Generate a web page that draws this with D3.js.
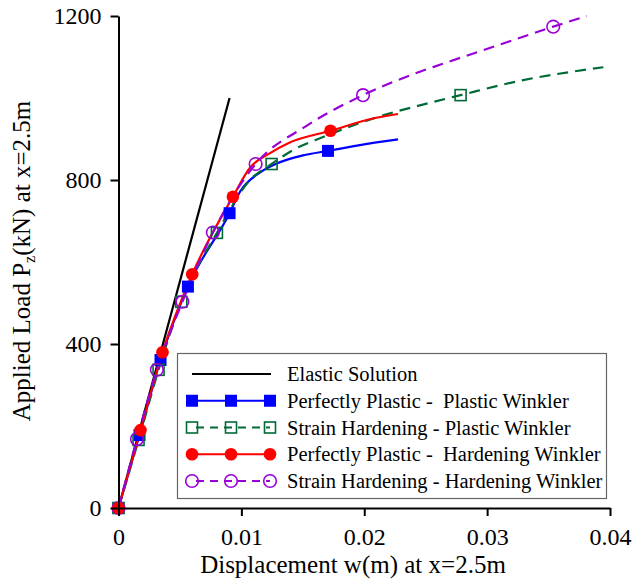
<!DOCTYPE html>
<html><head><meta charset="utf-8">
<script src="https://cdn.jsdelivr.net/npm/d3@7"></script>
<style>body{margin:0;background:#fff}svg{display:block}text{white-space:pre}</style>
</head><body>
<script>
// ---- data ----
const xTicks = [0, 0.01, 0.02, 0.03, 0.04];
const xTickLabels = ["0", "0.01", "0.02", "0.03", "0.04"];
const yTicks = [0, 400, 800, 1200];
const yTickLabels = ["0", "400", "800", "1200"];

const seriesNames = ["Elastic Solution", "Perfectly Plastic -  Plastic Winkler", "Strain Hardening - Plastic Winkler", "Perfectly Plastic -  Hardening Winkler", "Strain Hardening - Hardening Winkler"];

const elasticX = [0, 0.00904];
const elasticY = [0, 1000];

const ppPwX = [0, 0.00171, 0.00342, 0.00565, 0.00904, 0.0099, 0.0115, 0.0131, 0.0150, 0.01705, 0.0213, 0.02275];
const ppPwY = [0, 178, 361, 540, 719, 772, 818, 843, 860, 871, 893, 899];
const ppPwMarkX = [0, 0.00171, 0.00342, 0.00565, 0.00904, 0.01705];
const ppPwMarkY = [0, 178, 361, 540, 719, 871];

const shPwX = [0, 0.00163, 0.00326, 0.00511, 0.00801, 0.0107, 0.01246, 0.0142, 0.01665, 0.01936, 0.0218, 0.02452, 0.02784, 0.03267, 0.03946];
const shPwY = [0, 166, 337, 503, 671, 800, 839, 873, 905, 936, 960, 982, 1007, 1042, 1075];
const shPwMarkX = [0, 0.00163, 0.00326, 0.00511, 0.00801, 0.01246, 0.02784];
const shPwMarkY = [0, 166, 337, 503, 671, 839, 1007];

const ppHwX = [0, 0.00179, 0.00358, 0.0060, 0.00931, 0.0107, 0.0123, 0.0139, 0.01725, 0.0207, 0.02275];
const ppHwY = [0, 190, 380, 570, 759, 830, 865, 891, 920, 950, 961];
const ppHwMarkX = [0, 0.00179, 0.00358, 0.0060, 0.00931, 0.01725];
const ppHwMarkY = [0, 190, 380, 570, 759, 920];

const shHwX = [0, 0.0015, 0.00312, 0.0052, 0.00768, 0.01116, 0.0153, 0.0199, 0.02452, 0.02615, 0.03131, 0.03538, 0.0381];
const shHwY = [0, 168, 337, 503, 672, 839, 932, 1007, 1064, 1081, 1133, 1174, 1200];
const shHwMarkX = [0, 0.0015, 0.00312, 0.0052, 0.00768, 0.01116, 0.0199, 0.03538];
const shHwMarkY = [0, 168, 337, 503, 672, 839, 1007, 1174];

// ---- drawing ----
const W = 634, H = 583;
const svg = d3.select("body").append("svg").attr("width", W).attr("height", H);
const font = "'Liberation Serif','Times New Roman',serif";

const x = d3.scaleLinear().domain([0, 0.04]).range([118.5, 610]);
const y = d3.scaleLinear().domain([0, 1200]).range([508, 16]);

const line = d3.line().x(d => x(d[0])).y(d => y(d[1])).curve(d3.curveMonotoneX);
const zip = (a, b) => a.map((v, i) => [v, b[i]]);

const styles = [
  {color: "#000000", dash: null, marker: null, X: elasticX, Y: elasticY, MX: [], MY: []},
  {color: "#0000ff", dash: null, marker: "sqFill", X: ppPwX, Y: ppPwY, MX: ppPwMarkX, MY: ppPwMarkY},
  {color: "#006b37", dash: "11,7", marker: "sqOpen", X: shPwX, Y: shPwY, MX: shPwMarkX, MY: shPwMarkY},
  {color: "#ff0000", dash: null, marker: "cFill", X: ppHwX, Y: ppHwY, MX: ppHwMarkX, MY: ppHwMarkY},
  {color: "#9a00d8", dash: "11,7", marker: "cOpen", X: shHwX, Y: shHwY, MX: shHwMarkX, MY: shHwMarkY}
];

function drawMarker(g, type, color, cx, cy) {
  if (type === "sqFill") {
    g.append("rect").attr("x", cx - 6).attr("y", cy - 6).attr("width", 12).attr("height", 12).attr("fill", color);
  } else if (type === "sqOpen") {
    g.append("rect").attr("x", cx - 5.5).attr("y", cy - 5.5).attr("width", 11).attr("height", 11)
      .attr("fill", "none").attr("stroke", color).attr("stroke-width", 1.6);
  } else if (type === "cFill") {
    g.append("circle").attr("cx", cx).attr("cy", cy).attr("r", 6.3).attr("fill", color);
  } else if (type === "cOpen") {
    g.append("circle").attr("cx", cx).attr("cy", cy).attr("r", 6.3)
      .attr("fill", "none").attr("stroke", color).attr("stroke-width", 1.6);
  }
}

// lines
const gl = svg.append("g");
styles.forEach(s => {
  gl.append("path").attr("d", line(zip(s.X, s.Y))).attr("fill", "none")
    .attr("stroke", s.color).attr("stroke-width", 2.2)
    .attr("stroke-dasharray", s.dash);
});
// markers
const gm = svg.append("g");
[1, 2, 4, 3].forEach(i => {
  const s = styles[i];
  s.MX.forEach((mx, j) => drawMarker(gm, s.marker, s.color, x(mx), y(s.MY[j])));
});

// axes
const xAxis = svg.append("g").attr("transform", `translate(0,${y(0)})`)
  .call(d3.axisBottom(x).tickValues(xTicks).tickSize(8).tickSizeOuter(0).tickPadding(12)
    .tickFormat((d, i) => xTickLabels[i]));
const yAxis = svg.append("g").attr("transform", `translate(${x(0)},0)`)
  .call(d3.axisLeft(y).tickValues(yTicks).tickSize(8).tickSizeOuter(0).tickPadding(9)
    .tickFormat((d, i) => yTickLabels[i]));
[xAxis, yAxis].forEach(a => {
  a.select(".domain").attr("stroke", "#000").attr("stroke-width", 2);
  a.selectAll(".tick line").attr("stroke", "#000").attr("stroke-width", 2);
  a.selectAll(".tick text").attr("font-family", font).attr("font-size", 24).attr("fill", "#000");
});

// axis titles
svg.append("text").attr("x", 353).attr("y", 573).attr("text-anchor", "middle")
  .attr("font-family", font).attr("font-size", 25).attr("fill", "#000")
  .text("Displacement w(m) at x=2.5m");
const yt = svg.append("text").attr("transform", "translate(30,261) rotate(-90)").attr("text-anchor", "middle")
  .attr("font-family", font).attr("font-size", 25).attr("fill", "#000");
yt.append("tspan").text("Applied Load P");
yt.append("tspan").attr("font-size", 16).attr("dy", 5).text("z");
yt.append("tspan").attr("dy", -5).text("(kN) at x=2.5m");

// legend
const lg = svg.append("g");
lg.append("rect").attr("x", 177.5).attr("y", 353.5).attr("width", 429).attr("height", 145)
  .attr("fill", "#fff").attr("stroke", "#666").attr("stroke-width", 1.2);
const rowY = i => 374 + i * 26.75;
styles.forEach((s, i) => {
  const ry = rowY(i);
  if (i === 0) {
    lg.append("line").attr("x1", 192).attr("x2", 271).attr("y1", ry).attr("y2", ry)
      .attr("stroke", s.color).attr("stroke-width", 2);
  } else {
    lg.append("line").attr("x1", 192).attr("x2", 270).attr("y1", ry).attr("y2", ry)
      .attr("stroke", s.color).attr("stroke-width", 2).attr("stroke-dasharray", s.dash ? "8,6" : null)
      .attr("stroke-dashoffset", s.dash ? -4 : null);
    [192, 231, 270].forEach(mx => drawMarker(lg, s.marker, s.color, mx, ry));
  }
  lg.append("text").attr("x", 287).attr("y", ry + 7).attr("font-family", font).attr("font-size", 20.5)
    .attr("fill", "#000").text(seriesNames[i]);
});
</script>
</body></html>
